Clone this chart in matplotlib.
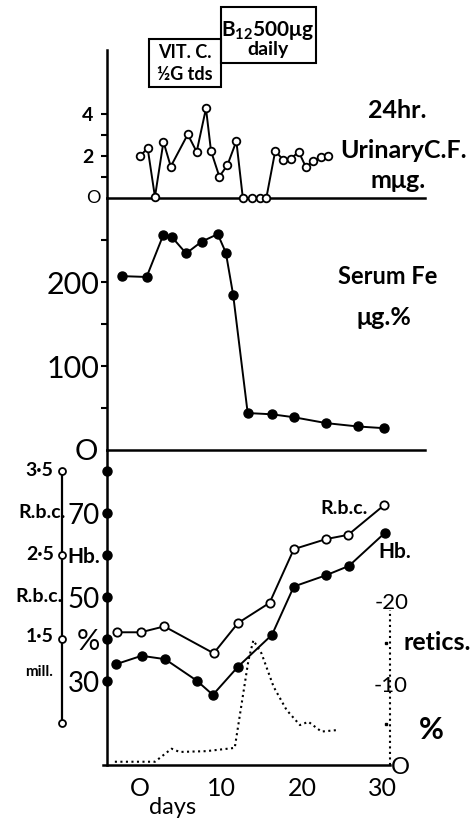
import matplotlib
matplotlib.use("Agg")
import matplotlib.pyplot as plt
from matplotlib.patches import Rectangle

plt.rcParams['font.family'] = ['Lato', 'DejaVu Sans']

# ---------------- data ----------------
urine_days = [0.0, 0.95, 1.85, 2.9, 3.8, 5.9, 7.0, 8.15, 8.77, 9.8, 10.8, 11.9,
              12.7, 13.8, 14.8, 15.6, 16.7, 17.7, 18.6, 19.6, 20.5, 21.4, 22.3, 23.2]
urine_cf = [2.0, 2.37, 0.05, 2.68, 1.5, 3.03, 2.2, 4.27, 2.24, 1.02, 1.57, 2.71,
            0.0, 0.0, 0.0, 0.0, 2.24, 1.81, 1.86, 2.2, 1.46, 1.76, 1.97, 2.0]

serum_days = [-2.26, 0.82, 2.88, 3.9, 5.7, 7.6, 9.6, 10.6, 11.5, 13.3, 16.3, 19.0, 23.0, 26.9, 30.1]
serum_fe = [207, 206, 256, 254, 234, 248, 257, 235, 185, 44, 42.5, 39, 32, 28, 26]

rbc_days = [-2.8, 0.1, 3.0, 9.1, 12.1, 16.0, 19.0, 23.0, 25.7, 30.1]
rbc_mill = [1.58, 1.58, 1.65, 1.33, 1.69, 1.93, 2.57, 2.69, 2.74, 3.09]

hb_days = [-2.96, 0.2, 3.1, 7.0, 9.0, 12.1, 16.3, 19.0, 23.0, 25.8, 30.2]
hb_pct = [34.0, 36.0, 35.2, 30.1, 26.7, 33.4, 41.0, 52.5, 55.2, 57.4, 65.2]

retic_days = [-3.1, 1.85, 3.9, 4.9, 8.2, 11.7, 13.4, 14.0, 15.0, 16.5, 18.1, 19.75, 20.8, 22.4, 24.5]
retic_pct = [0.4, 0.4, 2.0, 1.6, 1.7, 2.1, 12.9, 15.3, 13.7, 9.6, 6.75, 4.9, 5.3, 4.1, 4.3]

x_ticks = [0, 10, 20, 30]
x_labels = ['O', '10', '20', '30']
cf_ticks = [1, 2, 3, 4]
cf_labels = ['', '2', '', '4']
fe_ticks = [50, 100, 150, 200, 250]
fe_labels = ['', '100', '', '200', '']
hb_ticks = [30, 40, 50, 60, 70, 80]
hb_labels = ['30', '%', '50', 'Hb.', '70', '']
rbc_scale = [3.5, 2.5, 1.5, 0.5]
retic_minor = [5, 15]

# ---------------- layout ----------------
W, H = 472, 823
fig = plt.figure(figsize=(W / 100, H / 100), dpi=100)
K = 'black'
XL = (-4.07, 35.19)
RET_X = 30.86      # retics axis position (days)
RBC_X = -9.63      # R.b.c. scale position (days)


def add_ax(l, t, r, b):
    ax = fig.add_axes([l / W, 1 - b / H, (r - l) / W, (b - t) / H])
    ax.set_xlim(XL)
    ax.patch.set_visible(False)
    for s in ('top', 'right'):
        ax.spines[s].set_visible(False)
    for s in ('left', 'bottom'):
        ax.spines[s].set_linewidth(1.8)
    return ax


def T(x, y, s, size, weight='bold', **kw):
    fig.text(x / W, 1 - y / H, s, fontsize=size, fontweight=weight,
             ha=kw.pop('ha', 'center'), va=kw.pop('va', 'center'), **kw)


# top panel: urinary CF
ax1 = add_ax(107, 50, 425, 198)
ax1.set_ylim(0, 7.05)
ax1.set_xticks([])
ax1.set_yticks(cf_ticks, cf_labels, fontsize=14, fontweight='bold')
ax1.tick_params(axis='y', length=4, width=1.5, pad=6)
ax1.plot(urine_days, urine_cf, '-o', color=K, lw=1.4, ms=5.5, mfc='white',
         mec=K, mew=1.3, clip_on=False, zorder=3)

# middle panel: serum Fe
ax2 = add_ax(107, 198, 425, 450)
ax2.set_ylim(0, 300)
ax2.set_xticks([])
ax2.set_yticks(fe_ticks, fe_labels, fontsize=22)
ax2.tick_params(axis='y', length=4, width=1.5, pad=1.5)
ax2.plot(serum_days, serum_fe, '-o', color=K, lw=1.4, ms=6.5, clip_on=False, zorder=3)

# bottom panel: Hb, R.b.c., retics
ax3 = add_ax(107, 450, 425, 765)
ax3.set_ylim(10, 85)
ax3.spines['bottom'].set_bounds(XL[0] - 0.5, RET_X)
ax3.set_xticks(x_ticks, x_labels, fontsize=18)
ax3.tick_params(axis='x', length=0, pad=9)
ax3.set_yticks(hb_ticks, hb_labels, fontsize=20)
ax3.tick_params(axis='y', length=0, pad=5)
for lbl in ax3.get_yticklabels():
    if lbl.get_text() == 'Hb.':
        lbl.set_fontsize(15)
        lbl.set_fontweight('bold')
    elif lbl.get_text() == '%':
        lbl.set_fontsize(21)
ax3.plot([XL[0]] * len(hb_ticks), hb_ticks, 'o', color=K, ms=6.5, clip_on=False, zorder=4)
ax3.plot(hb_days, hb_pct, '-o', color=K, lw=1.4, ms=6.5, clip_on=False, zorder=3)

ax3b = ax3.twinx()
ax3b.set_ylim(0, 3.75)
ax3b.set_xlim(XL)
ax3b.axis('off')
ax3b.plot(rbc_days, rbc_mill, '-o', color=K, lw=1.4, ms=6, mfc='white', mec=K,
          mew=1.3, clip_on=False, zorder=3)
ax3b.plot([RBC_X] * len(rbc_scale), rbc_scale, '-o', color=K, lw=1.6, ms=5,
          mfc='white', mec=K, mew=1.3, clip_on=False)

ax3r = ax3.twinx()
ax3r.set_ylim(0, 38.65)
ax3r.set_xlim(XL)
ax3r.axis('off')
ax3r.plot(retic_days, retic_pct, ':', color=K, lw=1.5, clip_on=False)
ax3r.plot([RET_X, RET_X], [0, 19], ':', color=K, lw=1.5, clip_on=False)
ax3r.plot([RET_X - 0.45] * 2, retic_minor, 's', color=K, ms=2, clip_on=False)

# ---------------- text ----------------
T(397, 111, '24hr.', 18)
T(404, 150, 'UrinaryC.F.', 18)
T(398, 180, 'mμg.', 18)
T(388, 277, 'Serum Fe', 17)
T(384, 318, 'μg.%', 18)

fig.add_artist(Rectangle((149 / W, 1 - 87 / H), 72 / W, 48 / H, fill=False,
                         lw=1.5, ec=K, transform=fig.transFigure))
fig.add_artist(Rectangle((221 / W, 1 - 63 / H), 95 / W, 56 / H, fill=False,
                         lw=1.5, ec=K, transform=fig.transFigure))
T(185, 53, 'VIT. C.', 13)
T(185, 74, '½G tds', 13)
T(268, 30, r'B$_\mathregular{12}$500μg', 15)
T(268, 49, 'daily', 14)

T(93, 198, 'O', 13, weight='normal')
T(86, 452, 'O', 21, weight='normal')

T(39, 471, '3·5', 14)
T(42, 513, 'R.b.c.', 14)
T(40, 555, '2·5', 14)
T(39, 596, 'R.b.c.', 14)
T(40, 637, '1·5', 14)
T(39, 672, 'mill.', 11)

T(344, 508, 'R.b.c.', 14)
T(395, 552, 'Hb.', 15)
T(437, 643, 'retics.', 18)
T(431, 730, '%', 22)
T(392, 603, '-20', 16, weight='normal')
T(391, 686, '-10', 16, weight='normal')
T(400, 767, 'O', 17, weight='normal')
T(173, 807, 'days', 17, weight='normal')

fig.savefig('out.png', dpi=100)
